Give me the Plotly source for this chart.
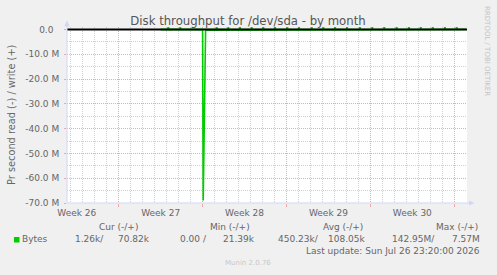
import plotly.graph_objects as go

FONT = "DejaVu Sans"
GREEN = "#00CC00"
TEXT = "#666666"
MGRID = "#EEA8A8"
GRID = "#CFCFCF"
AXIS = "#CFD6F8"

# ---------------- data ----------------
title = "Disk throughput for /dev/sda - by month"
y_title = "Pr second read (-) / write (+)"
series_name = "Bytes"

x_start = "2026-06-23 16:29"
x_end = "2026-07-27 01:26"

week_bounds = ["2026-06-28", "2026-07-05", "2026-07-12", "2026-07-19", "2026-07-26"]
week_mids = ["2026-06-24 12:00", "2026-07-01 12:00", "2026-07-08 12:00",
             "2026-07-15 12:00", "2026-07-22 12:00"]
week_labels = ["Week 26", "Week 27", "Week 28", "Week 29", "Week 30"]

y_ticks = [0, -10e6, -20e6, -30e6, -40e6, -50e6, -60e6, -70e6]
y_ticktext = ["0.0\u00a0\u00a0", "-10.0 M", "-20.0 M", "-30.0 M", "-40.0 M",
              "-50.0 M", "-60.0 M", "-70.0 M"]

# read (plotted as negative)
read_times = ["2026-07-01 12:00", "2026-07-04 23:00", "2026-07-05 00:00",
              "2026-07-05 01:15", "2026-07-05 06:00", "2026-07-26 23:20"]
read_vals = [32e3, 35e3, 0.5e6, 69.0e6, 0.3e6, 1.26e3]

# write (plotted as positive)
write_times = [
    "2026-07-01 12:00",
    "2026-07-02 02:20", "2026-07-02 03:20", "2026-07-02 04:20",
    "2026-07-03 02:20", "2026-07-03 03:20", "2026-07-03 04:20",
    "2026-07-06 03:10", "2026-07-06 04:10", "2026-07-06 05:10",
    "2026-07-07 02:30", "2026-07-07 03:30", "2026-07-07 04:30",
    "2026-07-08 01:50", "2026-07-08 02:50", "2026-07-08 03:50",
    "2026-07-09 01:20", "2026-07-09 02:20", "2026-07-09 03:20",
    "2026-07-10 00:30", "2026-07-10 01:30", "2026-07-10 02:30",
    "2026-07-10 23:50", "2026-07-11 00:50", "2026-07-11 01:50",
    "2026-07-12 00:30", "2026-07-12 01:30", "2026-07-12 02:30",
    "2026-07-13 00:00", "2026-07-13 01:00", "2026-07-13 02:00",
    "2026-07-14 01:30", "2026-07-14 02:30", "2026-07-14 03:30",
    "2026-07-15 00:40", "2026-07-15 01:40", "2026-07-15 02:40",
    "2026-07-16 00:10", "2026-07-16 01:10", "2026-07-16 02:10",
    "2026-07-17 00:10", "2026-07-17 01:10", "2026-07-17 02:10",
    "2026-07-18 02:00", "2026-07-18 03:00", "2026-07-18 04:00",
    "2026-07-19 02:50", "2026-07-19 03:50", "2026-07-19 04:50",
    "2026-07-20 02:50", "2026-07-20 03:50", "2026-07-20 04:50",
    "2026-07-21 03:30", "2026-07-21 04:30", "2026-07-21 05:30",
    "2026-07-22 04:10", "2026-07-22 05:10", "2026-07-22 06:10",
    "2026-07-23 03:50", "2026-07-23 04:50", "2026-07-23 05:50",
    "2026-07-24 03:50", "2026-07-24 04:50", "2026-07-24 05:50",
    "2026-07-25 04:10", "2026-07-25 05:10", "2026-07-25 06:10",
    "2026-07-26 03:50", "2026-07-26 04:50", "2026-07-26 05:50",
    "2026-07-26 23:20",
]
write_vals = [
    22e3,
    23e3, 3.4e6, 22e3,
    21e3, 4.1e6, 22e3,
    23e3, 5.2e6, 21e3,
    22e3, 3.9e6, 21e3,
    22e3, 4.6e6, 23e3,
    22e3, 3.3e6, 24e3,
    23e3, 5.8e6, 21e3,
    22e3, 4.4e6, 22e3,
    21e3, 3.7e6, 22e3,
    23e3, 6.1e6, 24e3,
    21e3, 4.8e6, 22e3,
    22e3, 3.5e6, 21e3,
    24e3, 7.57e6, 22e3,
    22e3, 4.0e6, 21e3,
    22e3, 5.5e6, 23e3,
    21e3, 3.6e6, 22e3,
    21e3, 4.3e6, 23e3,
    23e3, 5.0e6, 22e3,
    22e3, 3.8e6, 21e3,
    21e3, 6.4e6, 22e3,
    23e3, 4.7e6, 24e3,
    22e3, 3.2e6, 22e3,
    22e3, 5.6e6, 21e3,
    70.82e3,
]

legend_headers = ["Cur (-/+)", "Min (-/+)", "Avg (-/+)", "Max (-/+)"]
legend_read = ["1.26k/", "0.00 /", "450.23k/", "142.95M/"]
legend_write = ["70.82k", "21.39k", "108.05k", "7.57M"]
last_update = "Last update: Sun Jul 26 23:20:00 2026"
footer = "Munin 2.0.76"
side_text = "RRDTOOL / TOBI OETIKER"

# ---------------- layout geometry (pixels) ----------------
W, H = 497, 275
L, R, T, B = 67, 30, 27, 72
PW, PH = W - L - R, H - T - B
Y_TOP = 1.01e6


def px(x):
    return (x - L) / PW


def py(y):
    return (H - B - y) / PH


fig = go.Figure()

fig.add_trace(go.Scatter(
    x=read_times, y=[-v for v in read_vals], mode="lines",
    line=dict(color=GREEN, width=1.6), xaxis="x", yaxis="y",
    showlegend=False, hoverinfo="skip"))
fig.add_trace(go.Scatter(
    x=write_times, y=write_vals, mode="lines",
    line=dict(color=GREEN, width=1.3), xaxis="x2", yaxis="y",
    showlegend=False, hoverinfo="skip"))

small = dict(family=FONT, size=9, color=TEXT)

fig.update_layout(
    width=W, height=H,
    margin=dict(l=L, r=R, t=T, b=B, pad=0),
    paper_bgcolor="#F0F0F0", plot_bgcolor="#FFFFFF",
    font=small,
    title=dict(text=title, x=248 / W, xanchor="center",
               y=1 - 21 / H, yanchor="middle", yref="container",
               font=dict(family=FONT, size=11.7, color="#555555")),
    xaxis=dict(
        type="date", range=[x_start, x_end],
        tickmode="array", tickvals=week_bounds, showticklabels=False,
        ticks="outside", ticklen=3, tickcolor=MGRID, tickwidth=1,
        showgrid=True, gridcolor=MGRID, griddash="1px,1px", gridwidth=1,
        minor=dict(tickmode="linear", tick0="2026-06-21", dtick=86400000,
                   showgrid=True, gridcolor=GRID, griddash="1px,1px",
                   gridwidth=1, ticks=""),
        showline=False, zeroline=False),
    xaxis2=dict(
        type="date", range=[x_start, x_end], overlaying="x", anchor="y",
        side="bottom", tickmode="array", tickvals=week_mids,
        ticktext=week_labels, ticks="", showgrid=False, showline=False,
        zeroline=False, tickfont=small, ticklabelstandoff=3),
    yaxis=dict(
        range=[-70e6, Y_TOP], tickmode="array", tickvals=y_ticks,
        ticktext=y_ticktext, ticks="outside", ticklen=2, tickcolor=MGRID,
        showgrid=True, gridcolor=MGRID, griddash="1px,1px", gridwidth=1,
        minor=dict(tickmode="linear", tick0=0, dtick=5e6, showgrid=True,
                   gridcolor=GRID, griddash="1px,1px", gridwidth=1, ticks=""),
        showline=False, zeroline=False, tickfont=small,
        ticklabelstandoff=3),
)

shapes = [
    # strip above zero is background coloured
    dict(type="rect", xref="paper", yref="y", x0=0, x1=1, y0=0, y1=Y_TOP,
         fillcolor="#F0F0F0", line=dict(width=0), layer="between"),
    # zero rule
    dict(type="line", xref="paper", yref="y", x0=0, x1=1, y0=0, y1=0,
         line=dict(color="#000000", width=2), layer="above"),
    # axes
    dict(type="line", xref="paper", yref="paper", x0=0, x1=0, y0=0,
         y1=py(26), line=dict(color=AXIS, width=1), layer="above"),
    dict(type="line", xref="paper", yref="paper", x0=0, x1=px(470), y0=0,
         y1=0, line=dict(color=AXIS, width=1), layer="above"),
    dict(type="path", xref="paper", yref="paper",
         path=f"M {px(64.3)} {py(26.3)} L {px(67)} {py(20.5)} L {px(69.7)} {py(26.3)} Z",
         fillcolor=AXIS, line=dict(width=0), layer="above"),
    dict(type="path", xref="paper", yref="paper",
         path=f"M {px(469)} {py(200.5)} L {px(474.5)} {py(203)} L {px(469)} {py(205.5)} Z",
         fillcolor=AXIS, line=dict(width=0), layer="above"),
    # legend swatch
    dict(type="rect", xref="paper", yref="paper", x0=px(14), x1=px(19.5),
         y0=py(242.5), y1=py(237), fillcolor=GREEN, line=dict(width=0)),
]
fig.update_layout(shapes=shapes)

ann = []


def txt(text, x, y, xanchor="left", size=9, color=TEXT, angle=0):
    ann.append(dict(text=text, x=px(x), y=py(y), xref="paper", yref="paper",
                    xanchor=xanchor, yanchor="middle", showarrow=False,
                    textangle=angle,
                    font=dict(family=FONT, size=size, color=color)))


txt(y_title, 11, 115, xanchor="center", size=9.8, angle=-90)
txt(side_text, 487, 51, xanchor="center", size=7, color="#C4C4C4", angle=90)

header_right = [140, 252, 365.3, 480]
read_right = [106, 209, 321, 436.7]
write_right = [151.7, 256.7, 367.3, 482.3]
for h, x in zip(legend_headers, header_right):
    txt(h, x, 227.3, xanchor="right")
txt(series_name, 20.2, 239.3)
for v, x in zip(legend_read, read_right):
    txt(v, x, 239.3, xanchor="right")
for v, x in zip(legend_write, write_right):
    txt(v, x, 239.3, xanchor="right")
txt(last_update, 482.3, 251, xanchor="right")
txt(footer, 248, 262.7, xanchor="center", size=7, color="#C8C8C8")

fig.update_layout(annotations=ann)

fig.write_html("out.html")
